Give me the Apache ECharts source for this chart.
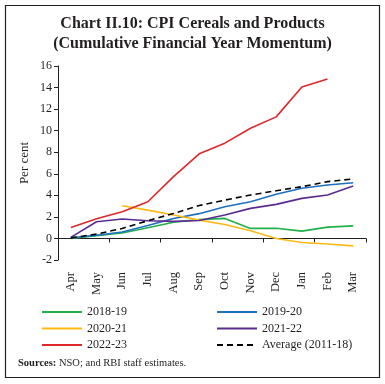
<!DOCTYPE html>
<html><head><meta charset="utf-8">
<script src="https://cdn.jsdelivr.net/npm/echarts@6/dist/echarts.min.js"></script>
<style>html,body{margin:0;padding:0;background:#fff}#c{width:385px;height:384px}</style>
</head><body><div id="c"></div>
<script>
const months = ['Apr','May','Jun','Jul','Aug','Sep','Oct','Nov','Dec','Jan','Feb','Mar'];
const yTicks = {min:-2, max:16, interval:2};
const s2018 = [0, 0.25, 0.5, 1.0, 1.5, 1.75, 1.86, 0.93, 0.95, 0.68, 1.05, 1.17];
const s2019 = [0.05, 0.3, 0.6, 1.2, 1.85, 2.3, 2.94, 3.4, 4.1, 4.65, 4.96, 5.17];
const s2020 = [null, null, 3.03, 2.63, 2.17, 1.7, 1.3, 0.71, 0.0, -0.37, -0.52, -0.69];
const s2021 = [0.1, 1.55, 1.8, 1.64, 1.58, 1.66, 2.17, 2.79, 3.16, 3.72, 4.03, 4.86];
const s2022 = [1.02, 1.82, 2.47, 3.4, 5.73, 7.85, 8.84, 10.23, 11.28, 14.05, 14.79, null];
const sAvg = [0.05, 0.4, 0.93, 1.64, 2.32, 3.05, 3.56, 4.03, 4.43, 4.8, 5.27, 5.52];
const names = ['2018-19','2019-20','2020-21','2021-22','2022-23','Average (2011-18)'];
const colors = ['#22b04b','#1f6fbf','#fdb913','#5b2c8f','#e0282a','#000000'];
const dataSets = [s2018, s2019, s2020, s2021, s2022, sAvg];

const font = 'Liberation Serif';
const chart = echarts.init(document.getElementById('c'), null, {renderer:'canvas'});
const series = dataSets.map((d,i)=>({
  name:names[i], type:'line', data:d, showSymbol:false, symbol:'none',
  xAxisIndex:0, yAxisIndex:0,
  lineStyle:{color:colors[i], width:1.6, type: i===5 ? [6,4] : 'solid'},
  itemStyle:{color:colors[i]}, z: i===5?5:3
}));
const legendCommon = {orient:'vertical', top:306, padding:0, itemWidth:40, itemHeight:10, itemGap:4.5,
  itemStyle:{opacity:0}, textStyle:{fontFamily:font, fontSize:12, color:'#231f20'}};
chart.setOption({
  animation:false,
  backgroundColor:'#fff',
  title:{text:'Chart II.10: CPI Cereals and Products\n(Cumulative Financial Year Momentum)', left:'center', top:9,
    textStyle:{fontFamily:font, fontWeight:'bold', fontSize:16, lineHeight:20, color:'#231f20'}},
  grid:{left:58, right:19, top:66, bottom:124, containLabel:false},
  xAxis:[{type:'category', data:months, boundaryGap:true,
    axisLine:{onZero:true, lineStyle:{color:'#231f20', width:1}},
    axisTick:{show:true, inside:false, length:4, lineStyle:{color:'#231f20'}},
    axisLabel:{show:false}, splitLine:{show:false}},
   {type:'category', data:months, position:'bottom', boundaryGap:true,
    axisLine:{show:false, onZero:false}, axisTick:{show:false},
    axisLabel:{show:true, rotate:90, margin:12, fontFamily:font, fontSize:12.5, color:'#231f20'}, splitLine:{show:false}}],
  yAxis:{type:'value', min:yTicks.min, max:yTicks.max, interval:yTicks.interval,
    name:'Per cent', nameLocation:'middle', nameGap:27, nameRotate:90, nameMoveOverlap:false,
    nameTextStyle:{fontFamily:font, fontSize:13, color:'#231f20'},
    axisLine:{show:true, lineStyle:{color:'#231f20'}},
    axisTick:{show:true, length:4, lineStyle:{color:'#231f20'}},
    axisLabel:{fontFamily:font, fontSize:12, color:'#231f20', margin:6},
    splitLine:{show:false}},
  legend:[
    Object.assign({data:[names[0],names[2],names[4]], left:41}, legendCommon),
    Object.assign({data:[names[1],names[3],names[5]], left:216}, legendCommon)
  ],
  graphic:[
    {type:'rect', shape:{x:5.5, y:5.5, width:374, height:372}, style:{fill:null, stroke:'#231f20', lineWidth:1.2}, silent:true},
    {type:'text', left:18, top:358, style:{text:'{b|Sources:} NSO; and RBI staff estimates.',
      rich:{b:{fontFamily:font, fontWeight:'bold', fontSize:10.5, fill:'#231f20'}},
      fontFamily:font, fontSize:10.5, fill:'#231f20'}}
  ],
  series:series
});
</script></body></html>
